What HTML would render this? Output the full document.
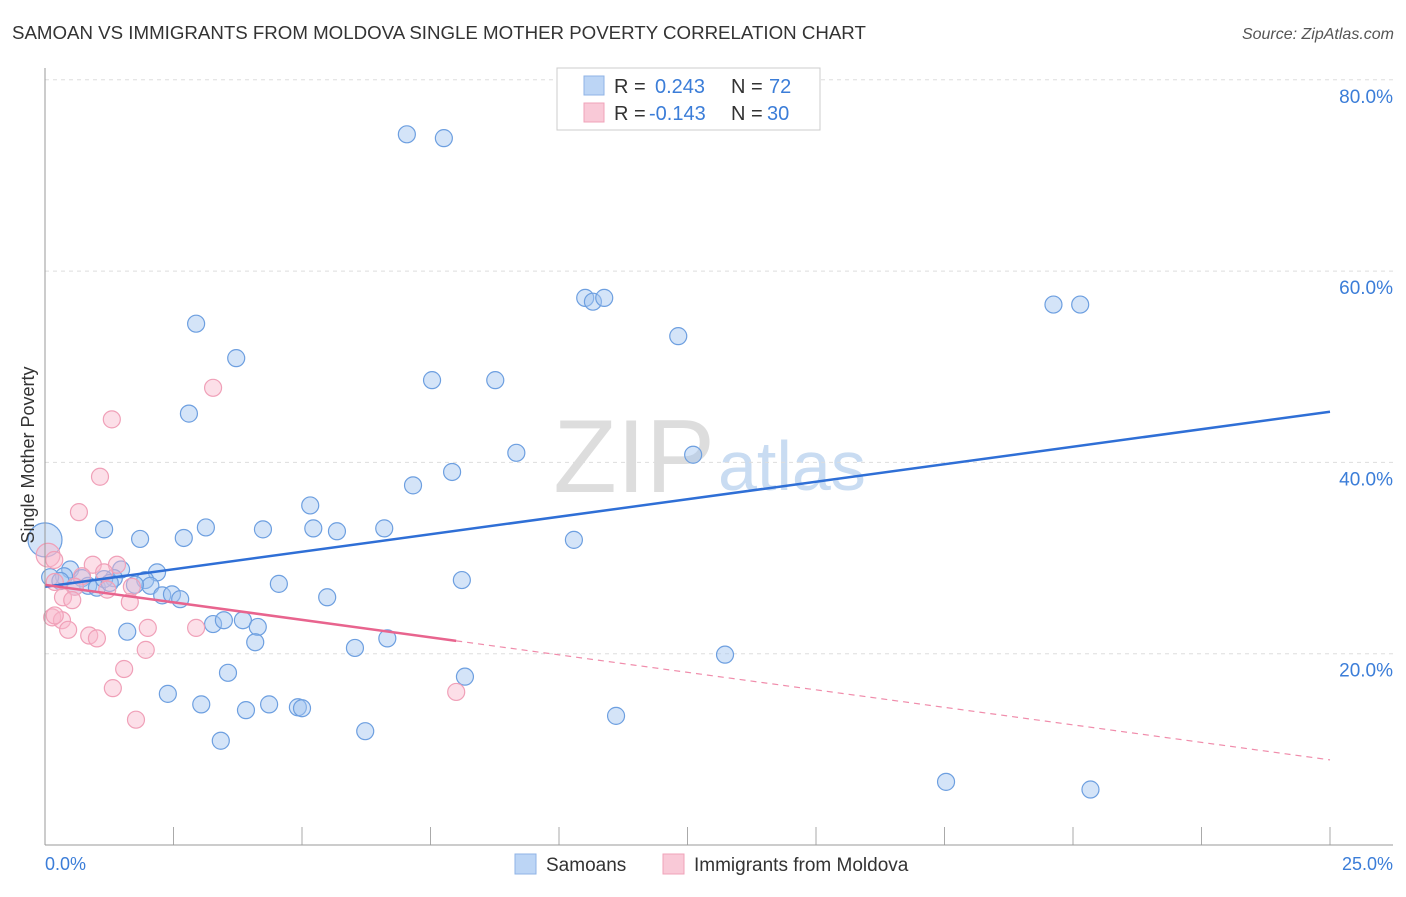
<!DOCTYPE html>
<html><head><meta charset="utf-8"><style>
body{margin:0;background:#fff;font-family:"Liberation Sans",sans-serif;}
svg text{font-family:"Liberation Sans",sans-serif;}
</style></head><body>
<svg width="1406" height="892" id="c">
<text x="12" y="39" font-size="18.7" fill="#333">SAMOAN VS IMMIGRANTS FROM MOLDOVA SINGLE MOTHER POVERTY CORRELATION CHART</text>
<text x="1394" y="39" font-size="16" fill="#555" font-style="italic" text-anchor="end">Source: ZipAtlas.com</text>
<text x="715" y="492" font-size="104" fill="#ddd" font-family="Liberation Serif" text-anchor="end">ZIP</text>
<text x="718" y="490" font-size="70" fill="#c9dcf2">atlas</text>
<g id="grid"></g><g id="pts"></g><g id="lines"></g>
<line x1="45" y1="68" x2="45" y2="845" stroke="#999"/>
<line x1="45" y1="845" x2="1393" y2="845" stroke="#999"/>
<text x="34" y="455" font-size="18" fill="#333" transform="rotate(-90 34 455)" text-anchor="middle">Single Mother Poverty</text>
<text x="45" y="870" font-size="18" fill="#3b7dd8">0.0%</text>
<text x="1393" y="870" font-size="18" fill="#3b7dd8" text-anchor="end">25.0%</text>
<g>
<rect x="557" y="68" width="263" height="62" fill="#fff" stroke="#ccc"/>
<rect x="584" y="76" width="20" height="19" fill="#bcd5f5" stroke="#8fb3e6"/>
<rect x="584" y="103" width="20" height="19" fill="#f9c9d7" stroke="#f0a3ba"/>
<text x="614" y="93" font-size="20" fill="#333">R =</text>
<text x="655" y="93" font-size="20" fill="#3b7dd8">0.243</text>
<text x="731" y="93" font-size="20" fill="#333">N =</text>
<text x="769" y="93" font-size="20" fill="#3b7dd8">72</text>
<text x="614" y="120" font-size="20" fill="#333">R =</text>
<text x="649" y="120" font-size="20" fill="#3b7dd8">-0.143</text>
<text x="731" y="120" font-size="20" fill="#333">N =</text>
<text x="767" y="120" font-size="20" fill="#3b7dd8">30</text>
</g>
<g>
<rect x="515" y="854" width="21" height="20" fill="#bcd5f5" stroke="#8fb3e6"/>
<text x="546" y="871" font-size="19" fill="#333">Samoans</text>
<rect x="663" y="854" width="21" height="20" fill="#f9c9d7" stroke="#f0a3ba"/>
<text x="694" y="871" font-size="19" fill="#333">Immigrants from Moldova</text>
</g>
</svg>
<script>
const yTicks=[20,40,60,80];
const xTicks=[0,2.5,5,7.5,10,12.5,15,17.5,20,22.5,25];
const samoanX=[7.04,7.76,2.94,3.72,10.51,10.66,10.88,12.32,19.62,20.14,7.53,8.76,2.80,9.17,12.61,7.92,7.16,5.16,1.15,3.13,4.24,5.22,5.68,6.60,1.85,2.70,10.29,0,0.49,0.37,0.10,0.72,0.84,1.01,1.48,1.34,2.18,1.95,2.05,2.28,2.47,2.63,4.55,5.49,8.11,3.27,3.48,3.85,4.14,1.60,4.09,6.66,6.03,13.23,3.56,8.17,2.39,3.04,3.91,4.36,4.92,5.00,11.11,6.23,3.42,17.53,20.34,1.15,1.75,0.58,1.26,0.3];
const samoanY=[74.3,73.9,54.5,50.9,57.2,56.8,57.2,53.2,56.5,56.5,48.6,48.6,45.1,41.0,40.8,39.0,37.6,35.5,33.0,33.2,33.0,33.1,32.8,33.1,32.0,32.1,31.9,31.9,28.8,28.1,28.0,27.9,27.1,26.9,28.8,27.9,28.5,27.7,27.1,26.1,26.2,25.7,27.3,25.9,27.7,23.1,23.5,23.5,22.8,22.3,21.2,21.6,20.6,19.9,18.0,17.6,15.8,14.7,14.1,14.7,14.4,14.3,13.5,11.9,10.9,6.6,5.8,27.8,27.2,27.0,27.4,27.6];
const samoanSize=samoanX.map((v,i)=>i===27?2:1);
const moldovaX=[3.27,1.30,1.07,0.66,0.06,0.93,1.40,1.15,0.72,0.19,0.58,1.21,1.69,0.35,0.53,1.65,0.14,0.33,0.45,2.00,2.94,0.86,1.01,1.96,1.54,1.32,1.77,8.00,0.18,0.19];
const moldovaY=[47.8,44.5,38.5,34.8,30.3,29.3,29.3,28.5,28.1,27.5,27.0,26.7,27.0,25.9,25.6,25.4,23.8,23.5,22.5,22.7,22.7,21.9,21.6,20.4,18.4,16.4,13.1,16.0,29.8,24.0];
const moldovaSize=moldovaX.map((v,i)=>i===4?1.4:1);
const samoanTrend=[27.0,45.3];
const moldovaTrend=[27.2,8.9];
const moldovaSolidEnd=8.0;
const X=v=>45+v/25*1285, Y=v=>845-v/20*191.3;
const NS='http://www.w3.org/2000/svg';
function mk(t,a,p){const e=document.createElementNS(NS,t);for(const k in a)e.setAttribute(k,a[k]);document.getElementById(p).appendChild(e);return e;}
yTicks.forEach(t=>{
const l=mk('line',{x1:45,x2:1393,y1:Y(t),y2:Y(t),stroke:'#ddd','stroke-dasharray':'4,4'},'grid');


const tx=mk('text',{x:1393,y:Y(t)+23,'font-size':19,fill:'#3b7dd8','text-anchor':'end'},'grid');
tx.textContent=t.toFixed(1)+'%';


});
xTicks.forEach(t=>{
const l=mk('line',{x1:X(t),x2:X(t),y1:827,y2:845,stroke:'#aaa'},'grid');


});
samoanX.forEach((v,i)=>{
const c=mk('circle',{cx:X(v),cy:Y(samoanY[i]),r:8.5*samoanSize[i],fill:'rgba(160,196,240,0.45)',stroke:'#6d9fe0','stroke-width':1.2},'pts');


});
moldovaX.forEach((v,i)=>{
const c=mk('circle',{cx:X(v),cy:Y(moldovaY[i]),r:8.5*moldovaSize[i],fill:'rgba(248,185,205,0.45)',stroke:'#f0a0b8','stroke-width':1.2},'pts');


});
const bl=mk('line',{x1:X(0),y1:Y(samoanTrend[0]),x2:X(25),y2:Y(samoanTrend[1]),stroke:'#2f6fd6','stroke-width':2.5},'lines');


const my=x=>moldovaTrend[0]+(moldovaTrend[1]-moldovaTrend[0])*x/25;
const pl=mk('line',{x1:X(0),y1:Y(moldovaTrend[0]),x2:X(moldovaSolidEnd),y2:Y(my(moldovaSolidEnd)),stroke:'#e8648e','stroke-width':2.5},'lines');


const pd=mk('line',{x1:X(moldovaSolidEnd),y1:Y(my(moldovaSolidEnd)),x2:X(25),y2:Y(moldovaTrend[1]),stroke:'#f08cab','stroke-width':1.2,'stroke-dasharray':'6,5'},'lines');


</script>
</body></html>
